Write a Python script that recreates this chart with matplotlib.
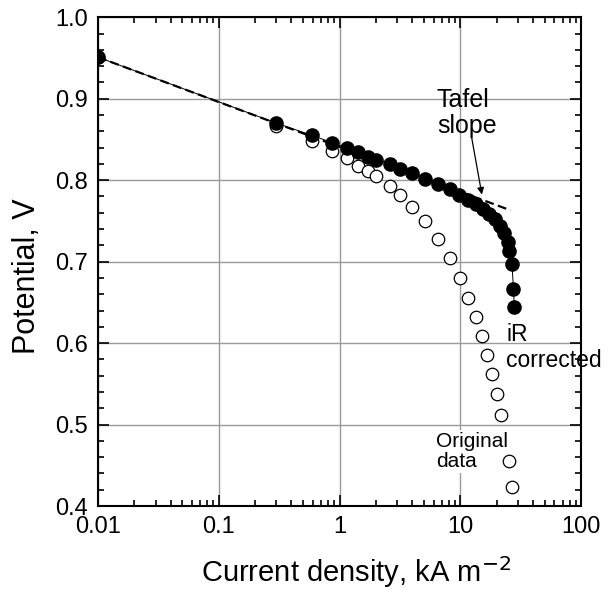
import numpy as np
import matplotlib
matplotlib.use('Agg')
import matplotlib.pyplot as plt
from matplotlib.ticker import FixedLocator, MultipleLocator, LogLocator, NullFormatter

plt.rcParams['font.family'] = ['Liberation Sans', 'DejaVu Sans']

# iR corrected data (filled circles)
ir_current = [0.01, 0.30, 0.59, 0.87, 1.15, 1.43, 1.71, 2.01, 2.59, 3.18, 3.99, 5.14,
              6.58, 8.22, 9.82, 11.5, 13.5, 15.3, 17.4, 19.5, 21.3, 23.1, 24.6, 25.4,
              26.7, 27.5, 27.9]
ir_potential = [0.951, 0.870, 0.855, 0.846, 0.839, 0.834, 0.829, 0.825, 0.820, 0.814,
                0.809, 0.802, 0.795, 0.789, 0.782, 0.776, 0.771, 0.765, 0.759, 0.752,
                0.744, 0.735, 0.724, 0.713, 0.697, 0.666, 0.644]

# original data (open circles)
orig_current = [0.01, 0.30, 0.59, 0.87, 1.15, 1.43, 1.71, 2.01, 2.59, 3.18, 3.99, 5.14,
                6.58, 8.2, 9.9, 11.5, 13.4, 15.0, 16.6, 18.2, 19.9, 21.7, 25.4, 26.5]
orig_potential = [0.951, 0.866, 0.848, 0.836, 0.827, 0.818, 0.811, 0.805, 0.793, 0.782,
                  0.767, 0.750, 0.728, 0.704, 0.680, 0.656, 0.632, 0.609, 0.585, 0.562,
                  0.537, 0.512, 0.455, 0.424]

# Tafel line end points
tafel_current = [0.01, 26.0]
tafel_potential = [0.951, 0.763]

fig = plt.figure(figsize=(6.08, 5.94), dpi=100)
ax = fig.add_axes([0.161, 0.148, 0.795, 0.823])

ax.plot(tafel_current, tafel_potential, color='black', lw=1.6, ls=(0, (4, 2)), zorder=3)
ax.plot(orig_current, orig_potential, 'o', ms=9, mfc='white', mec='black', mew=0.9, zorder=4)
ax.plot(ir_current, ir_potential, '-', color='black', lw=0.7, zorder=4)
ax.plot(ir_current, ir_potential, 'o', ms=9.5, mfc='black', mec='black', zorder=5)

ax.set_xscale('log')
ax.set_xlim(0.01, 100)
ax.set_ylim(0.4, 1.0)
ax.xaxis.set_major_locator(FixedLocator([0.01, 0.1, 1, 10, 100]))
ax.set_xticklabels(['0.01', '0.1', '1', '10', '100'])
ax.xaxis.set_minor_locator(LogLocator(base=10, subs=np.arange(2, 10)))
ax.xaxis.set_minor_formatter(NullFormatter())
ax.yaxis.set_major_locator(MultipleLocator(0.1))
ax.yaxis.set_minor_locator(MultipleLocator(0.02))
ax.yaxis.set_major_formatter(plt.FuncFormatter(lambda v, p: f'{v:.1f}'))

ax.grid(True, which='major', color='#9a9a9a', lw=1.0)
ax.tick_params(which='both', direction='in', top=True, right=True, labelsize=17, width=1.2)
ax.tick_params(which='major', length=8, pad=7)
ax.tick_params(which='minor', length=4.5)
for s in ax.spines.values():
    s.set_linewidth(1.5)

ax.set_xlabel('Current density, kA m$^{-2}$', fontsize=21)
ax.set_ylabel('Potential, V', fontsize=22)
ax.xaxis.set_label_coords(0.535, -0.098)
ax.yaxis.set_label_coords(-0.115, 0.47)

ax.text(6.4, 0.882, 'Tafel\nslope', fontsize=18, ha='left', va='center', linespacing=1.1)
ax.annotate('', xy=(15.2, 0.779), xytext=(12.3, 0.855),
            arrowprops=dict(arrowstyle='-|>', color='black', lw=0.9, mutation_scale=10))
ax.text(24.0, 0.595, 'iR\ncorrected', fontsize=16.5, ha='left', va='center',
        linespacing=1.15, clip_on=False)
ax.text(6.3, 0.467, 'Original\ndata', fontsize=15, ha='left', va='center',
        linespacing=1.1, bbox=dict(facecolor='white', edgecolor='none', pad=1), zorder=3)

fig.savefig('out.png', dpi=100)
